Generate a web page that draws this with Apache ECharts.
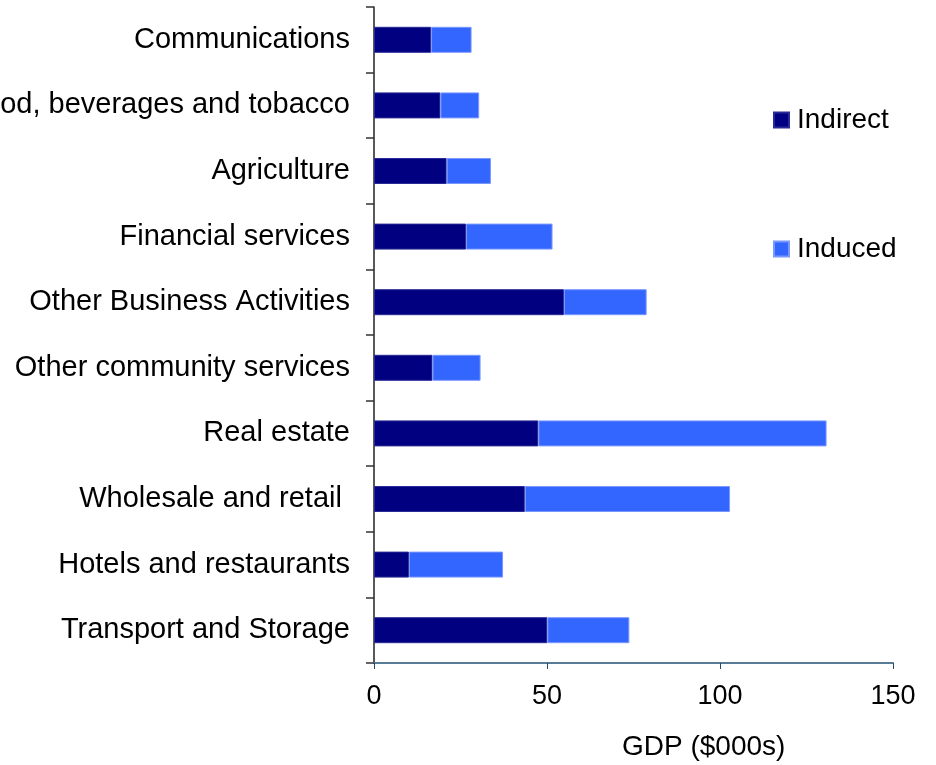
<!DOCTYPE html>
<html>
<head>
<meta charset="utf-8">
<title>GDP by sector</title>
<script src="https://cdn.jsdelivr.net/npm/echarts@6/dist/echarts.min.js"></script>
<style>
  html, body { margin: 0; padding: 0; background: #ffffff; }
  #chart { width: 936px; height: 765px; }
</style>
</head>
<body>
<div id="chart"></div>
<script>
// Sectors, listed top to bottom
const sectors = [
  'Communications',
  'Food, beverages and tobacco',
  'Agriculture',
  'Financial services',
  'Other Business Activities',
  'Other community services',
  'Real estate',
  'Wholesale and retail ',
  'Hotels and restaurants',
  'Transport and Storage'
];

// GDP contribution, $000s
const indirect = [16.5, 19.2, 21.0, 26.6, 54.9, 16.9, 47.5, 43.6, 10.1, 50.1];
const induced  = [11.7, 11.2, 12.8, 25.0, 23.9, 13.9, 83.3, 59.3, 27.2, 23.7];

const xTicks = { min: 0, max: 150, interval: 50 };

const FONT = 'Liberation Sans, Arial, Helvetica, sans-serif';
const chart = echarts.init(document.getElementById('chart'), null, { renderer: 'canvas' });

chart.setOption({
  backgroundColor: '#ffffff',
  animation: false,
  textStyle: { fontFamily: FONT, color: '#000000' },
  title: {
    text: 'GDP ($000s)',
    left: 622,
    top: 731,
    padding: 0,
    textStyle: { fontFamily: FONT, fontSize: 28, fontWeight: 'normal', color: '#000000', lineHeight: 32 }
  },
  legend: [
    {
      data: ['Indirect'],
      orient: 'vertical',
      left: 773,
      top: 105,
      padding: 0,
      itemWidth: 15,
      itemHeight: 15,
      itemGap: 8,
      icon: 'rect',
      selectedMode: false,
      textStyle: { fontFamily: FONT, fontSize: 28, color: '#000000', lineHeight: 30, padding: [0, 0, 0, 3] }
    },
    {
      data: ['Induced'],
      orient: 'vertical',
      left: 773,
      top: 234,
      padding: 0,
      itemWidth: 15,
      itemHeight: 15,
      itemGap: 8,
      icon: 'rect',
      selectedMode: false,
      textStyle: { fontFamily: FONT, fontSize: 28, color: '#000000', lineHeight: 30, padding: [0, 0, 0, 3] }
    }
  ],
  grid: {
    left: 374,
    right: 43,
    top: 7,
    bottom: 102,
    containLabel: false,
    outerBoundsMode: 'none'
  },
  xAxis: {
    type: 'value',
    min: xTicks.min,
    max: xTicks.max,
    interval: xTicks.interval,
    axisLine: { show: true, lineStyle: { color: '#587c96', width: 2 } },
    axisTick: { show: true, length: 6, inside: false, lineStyle: { color: '#1f4a6e', width: 1 } },
    axisLabel: { fontFamily: FONT, fontSize: 27, color: '#000000', margin: 20 },
    splitLine: { show: false }
  },
  yAxis: {
    type: 'category',
    data: sectors,
    inverse: true,
    axisLine: { show: true, onZero: false, lineStyle: { color: '#222222', width: 1.5 } },
    axisTick: { show: true, length: 8, inside: false, lineStyle: { color: '#333333', width: 1.5 } },
    axisLabel: { fontFamily: FONT, fontSize: 29, color: '#000000', margin: 24, padding: [5, 0, 0, 0] },
    splitLine: { show: false }
  },
  series: [
    {
      name: 'Indirect',
      type: 'bar',
      stack: 'gdp',
      data: indirect,
      barWidth: 26,
      itemStyle: { color: '#000080', borderColor: '#2a2a96', borderWidth: 1 }
    },
    {
      name: 'Induced',
      type: 'bar',
      stack: 'gdp',
      data: induced,
      barWidth: 26,
      itemStyle: { color: '#3366ff', borderColor: '#7b98ff', borderWidth: 1 }
    }
  ]
});
</script>
</body>
</html>
